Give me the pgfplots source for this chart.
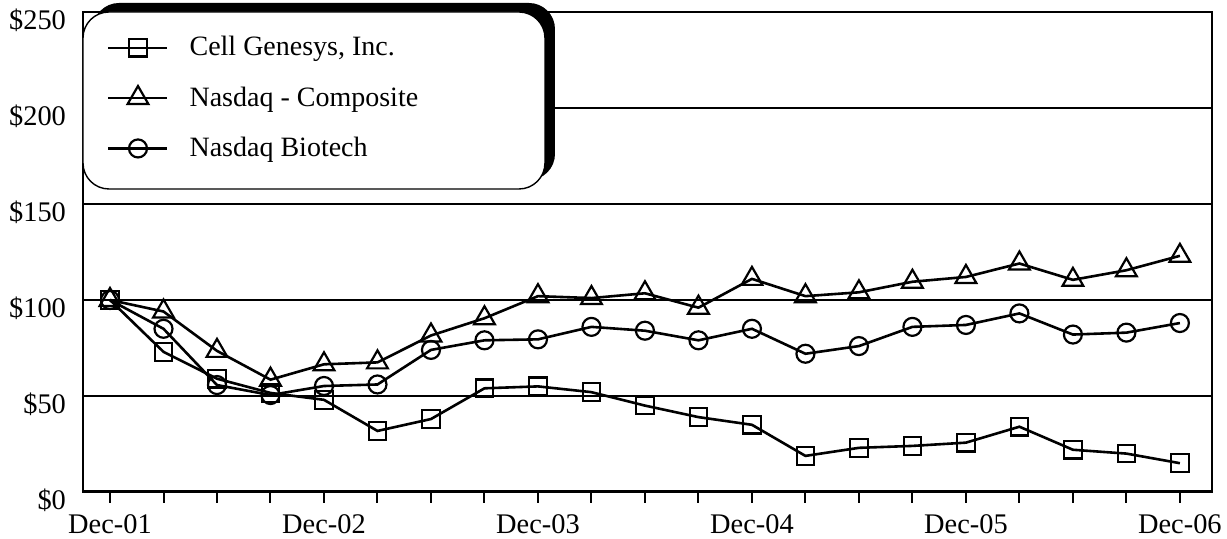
\documentclass[border=0pt]{standalone}
\usepackage{pgfplots}
\pgfplotsset{compat=1.18}
\usepackage{fontspec}
\setmainfont{Liberation Serif}
\begin{document}
\begin{tikzpicture}
\path[use as bounding box] (-41.5pt,-23.5pt) rectangle (572pt,246pt);
\begin{axis}[
  at={(0,0)}, anchor=south west,
  scale only axis, width=564.5pt, height=240pt,
  xmin=-0.505, xmax=20.6, ymin=0, ymax=250,
  clip=false,
  axis line style={line width=1pt},
  xtick={0,4,8,12,16,20},
  xticklabels={Dec-01,Dec-02,Dec-03,Dec-04,Dec-05,Dec-06},
  minor xtick={0,...,20},
  ytick={0,50,100,150,200,250},
  yticklabels={\$0,\$50,\$100,\$150,\$200,\$250},
  tick pos=left, xtick align=outside,
  major tick length=5.5pt, minor tick length=5.5pt,
  every tick/.style={black, line width=1pt},
  ytick style={draw=none},
  ymajorgrids, major grid style={black, line width=1pt},
  tick label style={font=\fontsize{14.2}{16}\selectfont},
  yticklabel style={yshift=-4pt, xshift=-5pt},
  xticklabel style={yshift=-2.3pt},
  /pgf/number format/assume math mode=true,
  reverse legend,
  legend cell align=left,
  legend image code/.code={\draw[mark repeat=2,mark phase=2,#1,line width=1.1pt] plot coordinates {(0pt,0pt) (14.75pt,0pt) (29.5pt,0pt)};},
  legend style={at={(0,1)}, anchor=north west, draw=none, fill=none,
     font=\fontsize{14}{16}\selectfont,
     inner xsep=12pt, inner ysep=10pt, row sep=10pt,
     /tikz/every odd column/.append style={column sep=8.5pt}},
]
% legend frame with offset shadow
\fill[black, rounded corners=13pt] ([shift={(5pt,4.5pt)}]rel axis cs:0,0.63125) rectangle ([shift={(5pt,4.5pt)}]rel axis cs:0.4092,1);
\filldraw[fill=white, draw=black, line width=0.7pt, rounded corners=13pt] (rel axis cs:0,0.63125) rectangle (rel axis cs:0.4092,1);
\addplot[black, line width=1.3pt, mark=o, mark size=4.5pt, mark options={solid, fill=white, line width=1.1pt}] coordinates {
(0,100) (1,85) (2,55.7) (3,50.5) (4,55.2) (5,56) (6,74) (7,79) (8,79.5) (9,86) (10,84)
(11,79) (12,85) (13,72) (14,76) (15,86) (16,87) (17,93) (18,82) (19,83) (20,88)};
\addlegendentry{Nasdaq Biotech}
\addplot[black, line width=1.3pt, mark=triangle, mark size=6pt, mark options={solid, fill=white, line width=1.1pt}] coordinates {
(0,100) (1,94) (2,73.5) (3,58.5) (4,66.5) (5,67.5) (6,81.5) (7,90.5) (8,102) (9,101) (10,103.5)
(11,96) (12,111) (13,102) (14,104) (15,109.5) (16,112) (17,119) (18,110.5) (19,115.5) (20,123)};
\addlegendentry{Nasdaq - Composite}
\addplot[black, line width=1.3pt, mark=square, mark size=4.4pt, mark options={solid, fill=white, line width=1.1pt}] coordinates {
(0,100) (1,73) (2,59) (3,51.6) (4,48) (5,31.8) (6,38) (7,54) (8,55) (9,52) (10,45)
(11,39) (12,35) (13,18.8) (14,23) (15,24) (16,25.7) (17,34) (18,22) (19,20) (20,15)};
\addlegendentry{Cell Genesys, Inc.}
\draw[line width=1.5pt] (rel axis cs:0,0) -- (rel axis cs:1,0);
\end{axis}
\end{tikzpicture}
\end{document}
